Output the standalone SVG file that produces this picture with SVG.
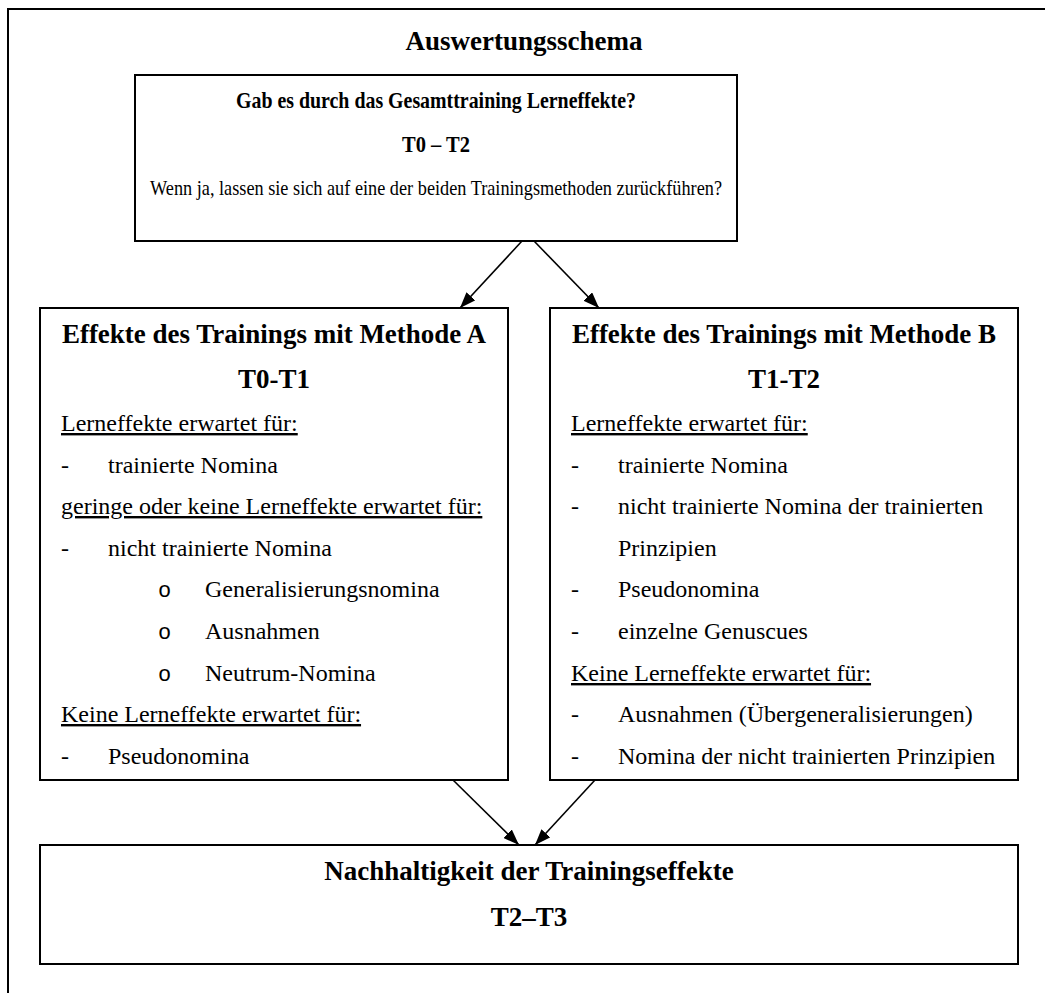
<svg xmlns="http://www.w3.org/2000/svg" width="1045" height="993" viewBox="0 0 1045 993">
<defs>
<style>
.box{fill:#fff;stroke:#000;stroke-width:2}
.t{font-family:"Liberation Serif","Times New Roman",serif;font-size:24px;fill:#000}
.b{font-family:"Liberation Serif","Times New Roman",serif;font-size:27px;font-weight:bold;fill:#000;text-anchor:middle}
.bs{font-family:"Liberation Serif","Times New Roman",serif;font-size:23px;font-weight:bold;fill:#000;text-anchor:middle}
.ts{font-family:"Liberation Serif","Times New Roman",serif;font-size:21px;fill:#000;text-anchor:middle}
.u{text-decoration:underline}
.o{font-family:"Liberation Mono","Courier New",monospace;font-size:22px;fill:#000}
.c{stroke:#000;stroke-width:1.6;fill:none}
</style>
<marker id="ah" viewBox="0 0 16 12" refX="16" refY="6" markerWidth="16" markerHeight="12" markerUnits="userSpaceOnUse" orient="auto">
<path d="M0,0 L16,6 L0,12 z" fill="#000"/>
</marker>
</defs>
<rect width="1045" height="993" fill="#fff"/>
<path d="M8,993 V9 H1045" fill="none" stroke="#000" stroke-width="2"/>
<text class="b" x="524" y="50">Auswertungsschema</text>

<g id="connectors">
<line class="c" x1="522" y1="241" x2="460" y2="308" marker-end="url(#ah)"/>
<line class="c" x1="534" y1="241" x2="599" y2="308" marker-end="url(#ah)"/>
<line class="c" x1="453" y1="780" x2="519" y2="845" marker-end="url(#ah)"/>
<line class="c" x1="595" y1="780" x2="535" y2="845" marker-end="url(#ah)"/>
</g>

<g id="node-gesamt">
<rect class="box" x="135" y="75" width="602" height="166"/>
<text class="bs" x="436" y="108" textLength="400" lengthAdjust="spacingAndGlyphs">Gab es durch das Gesamttraining Lerneffekte?</text>
<text class="bs" x="436" y="152" textLength="68" lengthAdjust="spacingAndGlyphs">T0 – T2</text>
<text class="ts" x="436" y="195" textLength="572" lengthAdjust="spacingAndGlyphs">Wenn ja, lassen sie sich auf eine der beiden Trainingsmethoden zurückführen?</text>
</g>

<g id="node-methode-a">
<rect class="box" x="40" y="308" width="468" height="472"/>
<text class="b" x="274" y="343">Effekte des Trainings mit Methode A</text>
<text class="b" x="274" y="388">T0-T1</text>
<text class="t u" x="61" y="431">Lerneffekte erwartet für:</text>
<text class="t" x="61" y="473">-</text><text class="t" x="108" y="473">trainierte Nomina</text>
<text class="t u" x="61" y="514">geringe oder keine Lerneffekte erwartet für:</text>
<text class="t" x="61" y="556">-</text><text class="t" x="108" y="556">nicht trainierte Nomina</text>
<text class="o" x="158" y="597">o</text><text class="t" x="205" y="597">Generalisierungsnomina</text>
<text class="o" x="158" y="639">o</text><text class="t" x="205" y="639">Ausnahmen</text>
<text class="o" x="158" y="681">o</text><text class="t" x="205" y="681">Neutrum-Nomina</text>
<text class="t u" x="61" y="722">Keine Lerneffekte erwartet für:</text>
<text class="t" x="61" y="764">-</text><text class="t" x="108" y="764">Pseudonomina</text>
</g>

<g id="node-methode-b">
<rect class="box" x="550" y="308" width="468" height="472"/>
<text class="b" x="784" y="343">Effekte des Trainings mit Methode B</text>
<text class="b" x="784" y="388">T1-T2</text>
<text class="t u" x="571" y="431">Lerneffekte erwartet für:</text>
<text class="t" x="571" y="473">-</text><text class="t" x="618" y="473">trainierte Nomina</text>
<text class="t" x="571" y="514">-</text><text class="t" x="618" y="514">nicht trainierte Nomina der trainierten</text>
<text class="t" x="618" y="556">Prinzipien</text>
<text class="t" x="571" y="597">-</text><text class="t" x="618" y="597">Pseudonomina</text>
<text class="t" x="571" y="639">-</text><text class="t" x="618" y="639">einzelne Genuscues</text>
<text class="t u" x="571" y="681">Keine Lerneffekte erwartet für:</text>
<text class="t" x="571" y="722">-</text><text class="t" x="618" y="722">Ausnahmen (Übergeneralisierungen)</text>
<text class="t" x="571" y="764">-</text><text class="t" x="618" y="764">Nomina der nicht trainierten Prinzipien</text>
</g>

<g id="node-nachhaltigkeit">
<rect class="box" x="40" y="845" width="978" height="119"/>
<text class="b" x="529" y="880">Nachhaltigkeit der Trainingseffekte</text>
<text class="b" x="529" y="926">T2–T3</text>
</g>
</svg>
